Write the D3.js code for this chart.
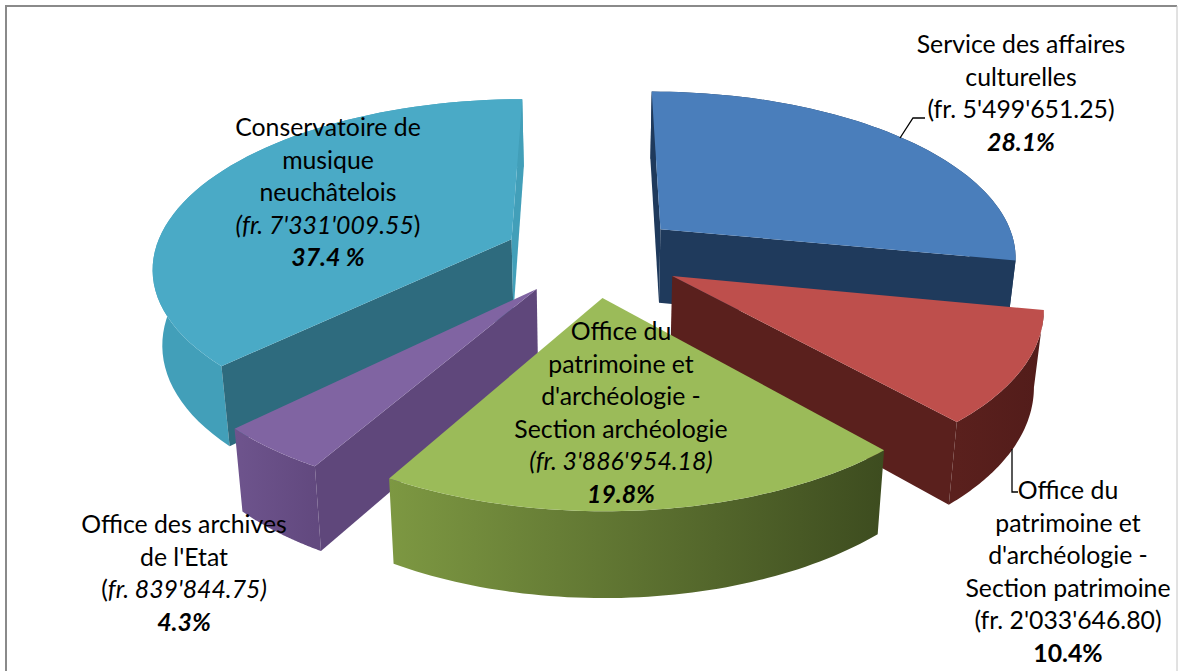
<!DOCTYPE html>
<html>
<head>
<meta charset="utf-8">
<script src="https://cdn.jsdelivr.net/npm/d3@7"></script>
<style>
  html, body { margin: 0; padding: 0; background: #fff; overflow: hidden; }
  text { font-family: Lato, "Noto Sans", sans-serif; font-size: 24.8px; fill: #000; text-anchor: middle; }
</style>
</head>
<body>
<div id="chart-area"></div>
<script>
var services = [
  "Service des affaires culturelles",
  "Office du patrimoine et d'archéologie - Section patrimoine",
  "Office du patrimoine et d'archéologie - Section archéologie",
  "Office des archives de l'Etat",
  "Conservatoire de musique neuchâtelois"
];
var amounts = [5499651.25, 2033646.80, 3886954.18, 839844.75, 7331009.55];

var topColors = ["#4a7ebb", "#be4f4c", "#9bbb59", "#8064a2", "#4aaac6"];
var wallColors = ["#1f3a5c", "#5a201d", "#4b5f2a", "#5f477b", "#2e6b7e"];
var rimLeft = ["#1f3a5c", "#5a201d", "#7d9842", "#6e548d", "#429fb9"];
var rimRight = ["#1f3a5c", "#521c1a", "#3d4c1f", "#62497f", "#429fb9"];

// back to front
var drawOrder = [0, 4, 3, 1, 2];

// one label per slice, each line is a list of [text, style] runs
var labelLines = [
  [[["Service des affaires", "n"]], [["culturelles", "n"]], [["(fr. 5'499'651.25)", "n"]], [["28.1%", "bi"]]],
  [[["Office du", "n"]], [["patrimoine et", "n"]], [["d'archéologie -", "n"]], [["Section patrimoine", "n"]], [["(fr. 2'033'646.80)", "n"]], [["10.4%", "b"]]],
  [[["Office du", "n"]], [["patrimoine et", "n"]], [["d'archéologie -", "n"]], [["Section archéologie", "n"]], [["(fr. 3'886'954.18)", "i"]], [["19.8%", "bi"]]],
  [[["Office des archives", "n"]], [["de l'Etat", "n"]], [["(", "n"], ["fr. 839'844.75)", "i"]], [["4.3%", "bi"]]],
  [[["Conservatoire de", "n"]], [["musique", "n"]], [["neuchâtelois", "n"]], [["(fr. 7'331'009.55", "i"], [")", "n"]], [["37.4 %", "bi"]]]
];
var labelX = [1021, 1068, 621, 184, 328];
var labelTop = [53, 499, 340, 533, 136];
var labelStep = 32.5;

var width = 1178, height = 671;

// projection of the tilted pie
var cx = 593, cy = 255, radiusX = 358, radiusY = 166;
var persp = 0.153, depth = 76.5, lowerScale = 0.978, explode = 0.25;

function project(px, py, lower) {
  var s = 1 / (1 - persp * py);
  var q = lower ? lowerScale : 1;
  return [
    cx + px * radiusX * s * q,
    cy + (py * radiusY + (lower ? depth : 0)) * s * q
  ];
}

var svg = d3.select("#chart-area")
  .append("svg")
  .attr("width", width)
  .attr("height", height);

svg.append("rect")
  .attr("width", width)
  .attr("height", height)
  .attr("fill", "#fff");

// frame
svg.append("path")
  .attr("d", "M6,671V6H1177")
  .attr("fill", "none")
  .attr("stroke", "#8a8a8a")
  .attr("stroke-width", 2);
svg.append("line")
  .attr("x1", 1177).attr("x2", 1177).attr("y1", 6).attr("y2", 671)
  .attr("stroke", "#c4c4c4");

var slices = d3.pie().sort(null)(amounts);
var defs = svg.append("defs");
var line = d3.line();
var toPath = pts => line(pts) + "Z";

drawOrder.forEach(i => {
  var d = slices[i];
  var mid = (d.startAngle + d.endAngle) / 2;
  var ox = Math.sin(mid) * explode;
  var oy = -Math.cos(mid) * explode;

  var rim = d3.range(0, 61).map(k => {
    var a = d.startAngle + (d.endAngle - d.startAngle) * k / 60;
    return [ox + Math.sin(a), oy - Math.cos(a)];
  });

  var upper = rim.map(p => project(p[0], p[1], false));
  var lower = rim.map(p => project(p[0], p[1], true));
  var apexUp = project(ox, oy, false);
  var apexLow = project(ox, oy, true);

  var g = svg.append("g").attr("class", "slice").attr("data-name", services[i]);

  // outer wall with a left to right shade
  var grad = defs.append("linearGradient")
    .attr("id", "rim" + i)
    .attr("gradientUnits", "userSpaceOnUse")
    .attr("x1", d3.min(upper, p => p[0])).attr("x2", d3.max(upper, p => p[0]))
    .attr("y1", 0).attr("y2", 0);
  grad.append("stop").attr("offset", 0).attr("stop-color", rimLeft[i]);
  grad.append("stop").attr("offset", 1).attr("stop-color", rimRight[i]);

  g.append("path")
    .attr("d", toPath(upper.concat(lower.slice().reverse())))
    .attr("fill", "url(#rim" + i + ")");

  // the two cut walls, only when they face the viewer
  var first = [apexUp, upper[0], lower[0], apexLow];
  var last = [upper[60], apexUp, apexLow, lower[60]];
  [first, last].forEach(quad => {
    if (d3.polygonArea(quad) > 0) {
      g.append("path")
        .attr("d", toPath(quad))
        .attr("fill", i === 4 && quad === last ? rimLeft[i] : wallColors[i]);
    }
  });

  g.append("path")
    .attr("d", toPath([apexUp].concat(upper)))
    .attr("fill", topColors[i]);
});

// leader lines
var leaders = [
  [[900, 138], [913, 118], [925, 118]],
  [[1012, 449], [1012, 492], [1018, 492]]
];
svg.selectAll(".leader")
  .data(leaders)
  .enter()
  .append("path")
  .attr("class", "leader")
  .attr("d", d => line(d))
  .attr("fill", "none")
  .attr("stroke", "#000")
  .attr("stroke-width", 1.3);

// labels
labelLines.forEach((lines, i) => {
  lines.forEach((runs, j) => {
    var t = svg.append("text")
      .attr("x", labelX[i])
      .attr("y", labelTop[i] + j * labelStep);
    runs.forEach(r => {
      t.append("tspan")
        .attr("font-style", r[1] === "i" || r[1] === "bi" ? "italic" : "normal")
        .attr("font-weight", r[1] === "b" || r[1] === "bi" ? "bold" : "normal")
        .text(r[0]);
    });
  });
});
</script>
</body>
</html>
